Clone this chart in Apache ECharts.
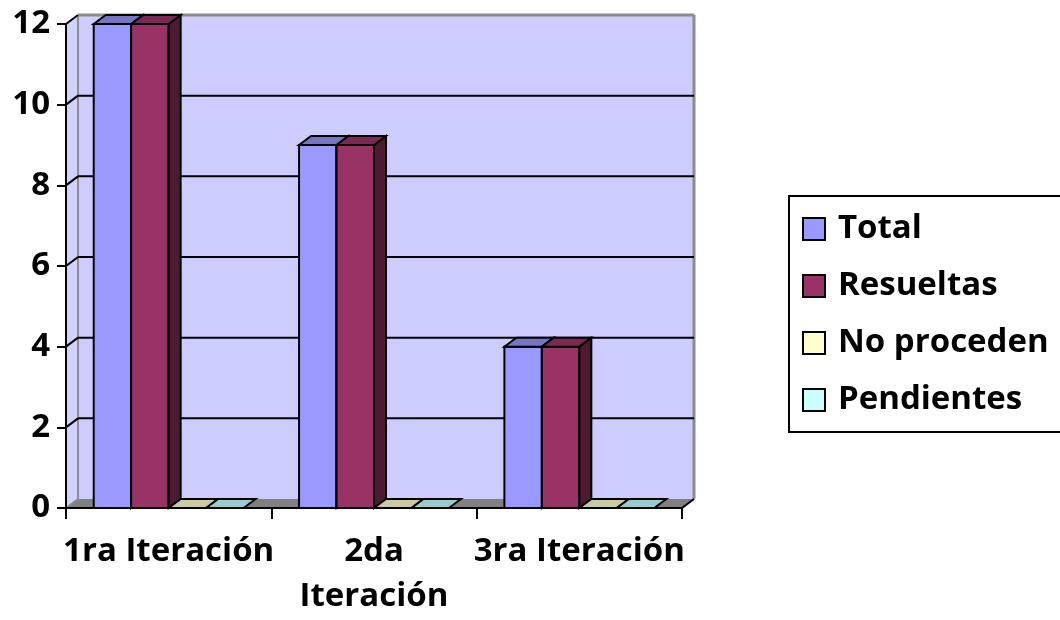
<!DOCTYPE html>
<html>
<head>
<meta charset="utf-8">
<script src="https://cdn.jsdelivr.net/npm/echarts@6/dist/echarts.min.js"></script>
<style>
  html, body { margin: 0; padding: 0; background: #fff; }
  #chart { width: 1060px; height: 620px; }
</style>
</head>
<body>
<div id="chart"></div>
<script>
// data
const categories = ['1ra Iteración', '2da\nIteración', '3ra Iteración'];
const seriesNames = ['Total', 'Resueltas', 'No proceden', 'Pendientes'];
const totalValues = [12, 9, 4];
const resueltasValues = [12, 9, 4];
const noProcedenValues = [0, 0, 0];
const pendientesValues = [0, 0, 0];
const yTicks = [0, 2, 4, 6, 8, 10, 12];

// 3d look, excel style
const DX = 12;
const DY = -9;
const FONT = '"Open Sans"';
const FONT_SIZE = 33;

const palette = [
  { front: '#9999FF', top: '#7575C4', side: '#5C5C99' },
  { front: '#993366', top: '#7A2952', side: '#4D1A33' },
  { front: '#FFFFCC', top: '#CACAA2', side: '#B3B38F' },
  { front: '#CCFFFF', top: '#99CCCC', side: '#8FB3B3' }
];
const allValues = [totalValues, resueltasValues, noProcedenValues, pendientesValues];

const poly = (points, fill, stroke, lw) => ({
  type: 'polygon',
  shape: { points },
  style: { fill, stroke: stroke || null, lineWidth: lw || 0 }
});
const line = (x1, y1, x2, y2, stroke, lw) => ({
  type: 'line',
  shape: { x1, y1, x2, y2 },
  style: { stroke, lineWidth: lw || 2 }
});

const wallsSeries = {
  type: 'custom',
  name: 'walls',
  silent: true,
  z: 1,
  data: [[0, 0]],
  renderItem: (params) => {
    const cs = params.coordSys;
    const x0 = cs.x, x1 = cs.x + cs.width;
    const yT = cs.y, yB = cs.y + cs.height;
    return {
      type: 'group',
      children: [
        poly([[x0 + DX, yT + DY], [x1 + DX, yT + DY], [x1 + DX, yB + DY], [x0 + DX, yB + DY]], '#CCCCFF'),
        poly([[x0, yB], [x0, yT], [x0 + DX, yT + DY], [x0 + DX, yB + DY]], '#D2D2FF'),
        poly([[x0, yB], [x1, yB], [x1 + DX, yB + DY], [x0 + DX, yB + DY]], '#808080'),
        line(x0 + DX, yT + DY, x1 + DX, yT + DY, '#8C8C8C', 3),
        line(x1 + DX, yT + DY, x1 + DX, yB + DY, '#8C8C8C', 3),
        line(x0 + DX, yT + DY, x0 + DX, yB + DY, '#8C8C8C', 2),
        line(x0, yB, x0 + DX, yB + DY, '#8C8C8C', 2),
        line(x1, yB, x1 + DX, yB + DY, '#000', 2)
      ]
    };
  }
};

const gridSeries = {
  type: 'custom',
  name: 'gridlines',
  silent: true,
  z: 2,
  data: yTicks.filter(v => v > 0).map(v => [0, v]),
  renderItem: (params, api) => {
    const cs = params.coordSys;
    const x0 = cs.x, x1 = cs.x + cs.width;
    const v = api.value(1);
    const y = api.coord([0, v])[1];
    const children = [line(x0, y, x0 + DX, y + DY, '#000', 2)];
    if (v < 12) children.push(line(x0 + DX, y + DY, x1 + DX, y + DY, '#000', 2));
    return { type: 'group', children };
  }
};

const makeBarSeries = (idx) => ({
  type: 'custom',
  name: seriesNames[idx],
  z: 3,
  itemStyle: { color: palette[idx].front },
  encode: { x: 0, y: 1 },
  data: allValues[idx].map((v, i) => [i, v]),
  renderItem: (params, api) => {
    const band = api.size([1, 0])[0];
    const bw = band * 0.73 / 4;
    const base = api.coord([api.value(0), 0]);
    const topPt = api.coord([api.value(0), api.value(1)]);
    const xl = base[0] - 2 * bw + idx * bw;
    const xr = xl + bw;
    const y0 = base[1];
    const yt = topPt[1];
    const c = palette[idx];
    const children = [];
    if (api.value(1) > 0) {
      children.push(poly([[xl, yt], [xr, yt], [xr, y0], [xl, y0]], c.front, '#000', 2));
      children.push(poly([[xr, yt], [xr + DX, yt + DY], [xr + DX, y0 + DY], [xr, y0]], c.side, '#000', 2));
    }
    children.push(poly([[xl, yt], [xr, yt], [xr + DX, yt + DY], [xl + DX, yt + DY]], c.top, '#000', 2));
    return { type: 'group', children };
  }
});

const chart = echarts.init(document.getElementById('chart'), null, { renderer: 'canvas' });

chart.setOption({
  animation: false,
  backgroundColor: '#fff',
  grid: { left: 66, right: 378, top: 24, bottom: 112 },
  // legend frame runs off the right edge like in the original
  graphic: [{
    type: 'rect',
    shape: { x: 789, y: 196, width: 400, height: 236 },
    style: { fill: null, stroke: '#000', lineWidth: 2 },
    silent: true
  }],
  legend: {
    orient: 'vertical',
    left: 789,
    top: 196,
    selectedMode: false,
    borderWidth: 0,
    padding: [15, 10, 12, 13],
    itemWidth: 22,
    itemHeight: 22,
    itemGap: 21,
    icon: 'rect',
    textStyle: {
      fontFamily: FONT,
      fontWeight: 'bold',
      fontSize: FONT_SIZE,
      lineHeight: 36,
      color: '#000',
      padding: [0, 0, 0, 8]
    },
    data: seriesNames.map((name, i) => ({
      name,
      itemStyle: { color: palette[i].front, borderColor: '#000', borderWidth: 2 }
    }))
  },
  xAxis: {
    type: 'category',
    data: categories,
    boundaryGap: true,
    axisLine: { lineStyle: { color: '#000', width: 2 } },
    axisTick: { show: true, length: 11, lineStyle: { color: '#000', width: 2 } },
    axisLabel: {
      color: '#000',
      fontFamily: FONT,
      fontWeight: 'bold',
      fontSize: FONT_SIZE,
      lineHeight: 45,
      margin: 21,
      interval: 0
    },
    splitLine: { show: false },
    z: 10
  },
  yAxis: {
    type: 'value',
    min: 0,
    max: 12,
    interval: 2,
    axisLine: { show: true, lineStyle: { color: '#000', width: 2 } },
    axisTick: { show: true, length: 9, lineStyle: { color: '#000', width: 2 } },
    axisLabel: {
      color: '#000',
      fontFamily: FONT,
      fontWeight: 'bold',
      fontSize: FONT_SIZE,
      margin: 16
    },
    splitLine: { show: false },
    z: 10
  },
  series: [wallsSeries, gridSeries, makeBarSeries(0), makeBarSeries(1), makeBarSeries(2), makeBarSeries(3)]
});
</script>
</body>
</html>
